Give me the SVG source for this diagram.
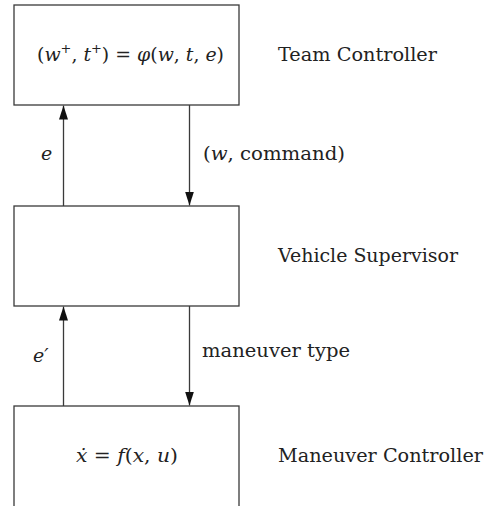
<svg xmlns="http://www.w3.org/2000/svg" width="485" height="506" viewBox="0 0 485 506">
<defs>
<style>
.box{fill:#fff;stroke:#3a3a3a;stroke-width:1.3}
.ln{stroke:#3a3a3a;stroke-width:1.3;fill:none}
text{font-family:"DejaVu Serif","Liberation Serif",serif;font-size:19px;fill:#222}
.i{font-style:italic}
.sup{font-size:13px}
</style>
<marker id="ah" viewBox="0 0 14 10" refX="14" refY="5" markerWidth="14" markerHeight="10" markerUnits="userSpaceOnUse" orient="auto">
<path d="M0,0.5 L14,5 L0,9.5 Z" fill="#111"/>
</marker>
</defs>
<rect width="485" height="506" fill="#fff"/>
<g id="team-controller">
<rect class="box" x="14" y="5" width="225" height="100"/>
<text x="37" y="61" textLength="187" lengthAdjust="spacingAndGlyphs">(<tspan class="i">w</tspan><tspan class="sup" dy="-8">+</tspan><tspan dy="8">, </tspan><tspan class="i">t</tspan><tspan class="sup" dy="-8">+</tspan><tspan dy="8">) = </tspan><tspan class="i">φ</tspan>(<tspan class="i">w</tspan>, <tspan class="i">t</tspan>, <tspan class="i">e</tspan>)</text>
<text x="278" y="61" textLength="159" lengthAdjust="spacingAndGlyphs">Team Controller</text>
</g>
<g id="vehicle-supervisor">
<rect class="box" x="14" y="206" width="225" height="100"/>
<text x="278" y="262" textLength="180" lengthAdjust="spacingAndGlyphs">Vehicle Supervisor</text>
</g>
<g id="maneuver-controller">
<rect class="box" x="14" y="406" width="225" height="120"/>
<text x="76" y="462" textLength="102" lengthAdjust="spacingAndGlyphs"><tspan class="i">ẋ</tspan> = <tspan class="i">f</tspan>(<tspan class="i">x</tspan>, <tspan class="i">u</tspan>)</text>
<text x="278" y="462" textLength="205" lengthAdjust="spacingAndGlyphs">Maneuver Controller</text>
</g>
<g id="connectors">
<line class="ln" x1="63.5" y1="206" x2="63.5" y2="105.5" marker-end="url(#ah)"/>
<line class="ln" x1="189.5" y1="105" x2="189.5" y2="205.5" marker-end="url(#ah)"/>
<line class="ln" x1="63.5" y1="406" x2="63.5" y2="306.5" marker-end="url(#ah)"/>
<line class="ln" x1="189.5" y1="306" x2="189.5" y2="405.5" marker-end="url(#ah)"/>
<text class="i" x="41" y="160">e</text>
<text x="203" y="160" textLength="142" lengthAdjust="spacingAndGlyphs">(<tspan class="i">w</tspan>, command)</text>
<text class="i" x="33" y="362">e′</text>
<text x="202" y="357" textLength="148" lengthAdjust="spacingAndGlyphs">maneuver type</text>
</g>
</svg>
